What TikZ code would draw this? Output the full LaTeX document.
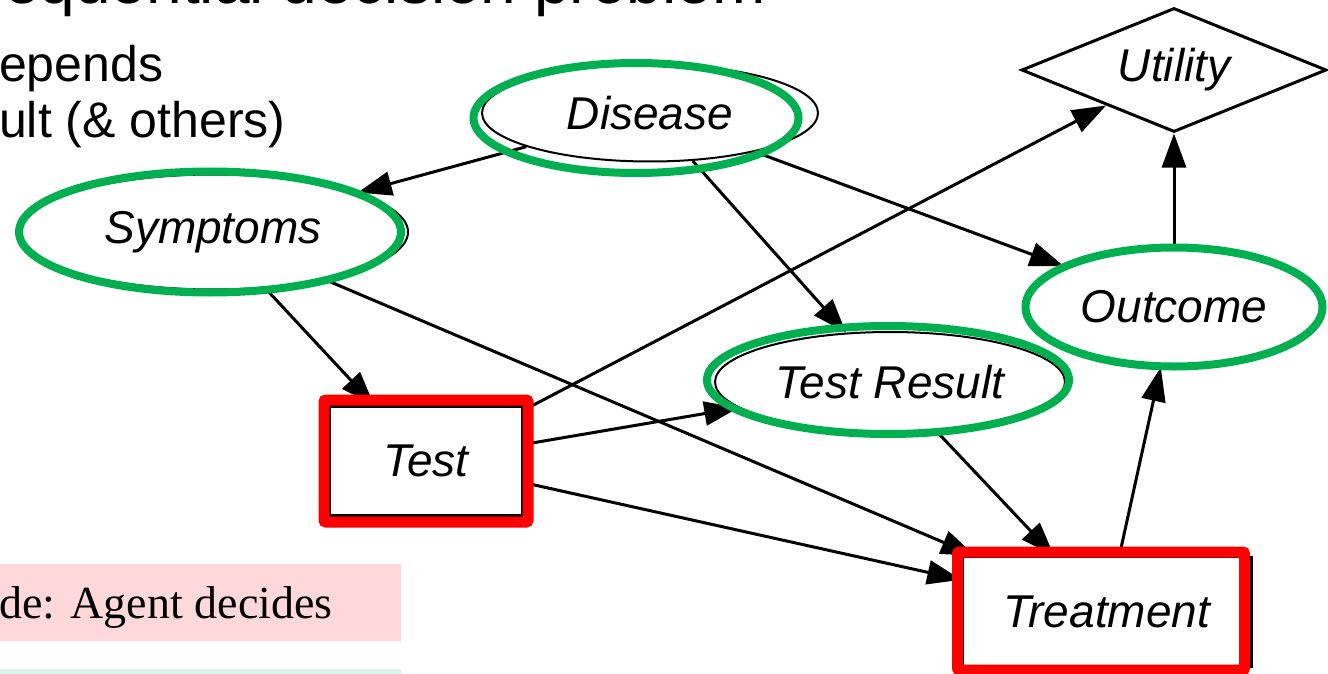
\documentclass[tikz,border=0pt]{standalone}
\usepackage{fontspec}
\setmainfont{Liberation Sans}
\newfontfamily\serifface{Liberation Serif}
\usetikzlibrary{shapes.geometric,arrows.meta}

\definecolor{ringgreen}{HTML}{00B050}
\definecolor{ringred}{HTML}{FF0000}
\definecolor{notepink}{HTML}{FFD9D9}
\definecolor{noteteal}{HTML}{DAF5EA}

\tikzset{
  labelfont/.style={font=\fontsize{46}{52}\selectfont\itshape},
  chance/.style={ellipse, draw=black, line width=2pt, inner sep=0pt, labelfont},
  decision/.style={rectangle, draw=black, line width=2.5pt, inner sep=0pt, labelfont},
  utilnode/.style={diamond, draw=black, line width=3pt, inner sep=0pt, aspect=2.46, labelfont},
  greenring/.style={ellipse, draw=ringgreen, line width=8pt, inner sep=0pt},
  redring/.style={rectangle, draw=ringred, line width=11pt, rounded corners=2pt, inner sep=0pt},
  link/.style={-{Triangle[length=34pt,width=24pt]}, line width=3pt},
  slidetext/.style={anchor=base west, inner sep=0pt},
}

\begin{document}
\begin{tikzpicture}[x=1pt,y=-1pt]
\useasboundingbox (0,0) rectangle (1328,674);
\clip (0,0) rectangle (1328,674);

% slide heading and bullet text
\node[slidetext, font=\fontsize{64}{70}\selectfont] (title) at (-28,4) {sequential decision problem};
\node[slidetext, font=\fontsize{50}{56}\selectfont] (line1) at (-1,82) {epends};
\node[slidetext, font=\fontsize{50}{56}\selectfont] (line2) at (-1,138) {ult (\& others)};

% legend boxes
\node[fill=notepink, anchor=north west, inner sep=0pt, minimum width=401pt, minimum height=77pt] (pinkbox) at (0,564) {};
\node[slidetext, font=\serifface\fontsize{46}{52}\selectfont] (pinktext) at (-1,618) {de: Agent decides};
\node[fill=noteteal, anchor=north west, inner sep=0pt, minimum width=401pt, minimum height=20pt] (tealbox) at (0,669) {};

% influence diagram
\node[chance, minimum width=336pt, minimum height=97pt] (disease) at (650,113) {Disease};
\node[chance, minimum width=390pt, minimum height=115pt] (symptoms) at (213,232) {Symptoms};
\node[chance, minimum width=350pt, minimum height=100pt] (result) at (890,382) {Test Result};
\node[chance, minimum width=297pt, minimum height=119pt] (outcome) at (1174,307) {Outcome};
\node[utilnode, minimum width=305pt, minimum height=124pt] (utility) at (1174,70) {Utility};
\node[decision, minimum width=193pt, minimum height=109pt] (test) at (426,461) {Test};
\node[decision, minimum width=289pt, minimum height=110pt] (treatment) at (1107,612) {Treatment};

\draw[link] (disease) -- (symptoms);
\draw[link] (disease) -- (result);
\draw[link] (disease) -- (outcome);
\draw[link] (symptoms) -- (test);
\draw[link] (symptoms) -- (treatment);
\draw[link] (test) -- (utility);
\draw[link] (test) -- (result);
\draw[link] (test) -- (treatment);
\draw[link] (result) -- (treatment);
\draw[link] (treatment) -- (outcome);
\draw[link] (outcome) -- (utility);

% highlight rings: chance nodes in green, decision nodes in red
\node[greenring, minimum width=325pt, minimum height=110pt] (disease-ring) at (636,118) {};
\node[greenring, minimum width=382pt, minimum height=121pt] (symptoms-ring) at (210,232) {};
\node[greenring, minimum width=362pt, minimum height=108pt] (result-ring) at (888,380) {};
\node[greenring, minimum width=297pt, minimum height=119pt] (outcome-ring) at (1174,307) {};
\node[redring, minimum width=204pt, minimum height=122pt] (test-ring) at (426,461) {};
\node[redring, minimum width=287pt, minimum height=118pt] (treatment-ring) at (1101,611) {};
\end{tikzpicture}
\end{document}
